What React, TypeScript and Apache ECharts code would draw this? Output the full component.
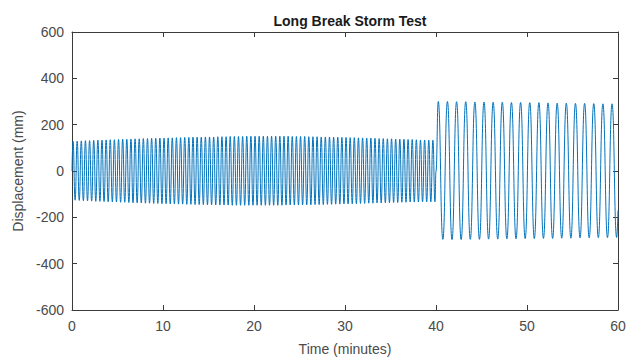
import React, { useEffect, useRef } from "react";
import * as echarts from "echarts";

const titleText = "Long Break Storm Test";
const xName = "Time (minutes)";
const yName = "Displacement (mm)";
const xTicks = [0, 10, 20, 30, 40, 50, 60];
const yTicks = [-600, -400, -200, 0, 200, 400, 600];

// Segment 1: 0–40 min, 88 cycles; crest and trough values of each cycle (mm)
const seg1Start = 0;
const seg1Period = 40 / 88;
const seg1Crests = [
  128, 129, 130, 131, 131, 132, 133, 133, 134, 135, 135,
  136, 137, 137, 138, 139, 139, 140, 140, 141, 141, 142,
  142, 143, 143, 144, 144, 145, 145, 146, 146, 146, 147,
  147, 147, 148, 148, 148, 149, 149, 149, 149, 150, 150,
  150, 150, 150, 150, 150, 150, 150, 150, 150, 149, 149,
  149, 149, 148, 148, 148, 147, 147, 147, 146, 146, 145,
  145, 144, 144, 143, 143, 142, 142, 141, 140, 140, 139,
  139, 138, 137, 137, 136, 136, 135, 134, 134, 133, 133,
];
const seg1Troughs = [
  -126, -127, -128, -129, -130, -131, -131, -132, -133, -133, -134,
  -135, -135, -136, -137, -137, -138, -139, -139, -140, -140, -141,
  -141, -142, -142, -143, -143, -144, -144, -145, -145, -145, -146,
  -146, -146, -147, -147, -147, -148, -148, -148, -148, -148, -148,
  -148, -148, -148, -148, -148, -148, -148, -147, -147, -147, -147,
  -146, -146, -146, -145, -145, -145, -144, -144, -143, -143, -142,
  -142, -141, -141, -140, -140, -139, -139, -138, -138, -137, -137,
  -136, -136, -135, -135, -134, -134, -134, -133, -133, -133, -133,
];

// Segment 2: from 40 min, 20 cycles of about 1 min
const seg2Start = 40;
const seg2Period = 1.005;
const seg2Crests = [
  300, 300, 299, 299, 298, 298, 297, 297, 296, 296,
  295, 295, 294, 293, 293, 292, 292, 291, 290, 290,
];
const seg2Troughs = [
  -295, -296, -296, -295, -295, -294, -294, -293, -293, -292,
  -292, -291, -291, -290, -290, -289, -289, -288, -288, -287,
];
const startValue = 0;
const joinValue = 0;
const endTime = 60;
const endValue = -170;

function buildSeries(): [number, number][] {
  const pts: [number, number][] = [[seg1Start, startValue]];
  seg1Crests.forEach((c, i) => {
    pts.push([seg1Start + (i + 0.25) * seg1Period, c]);
    pts.push([seg1Start + (i + 0.75) * seg1Period, seg1Troughs[i]]);
  });
  pts.push([seg2Start, joinValue]);
  seg2Crests.forEach((c, i) => {
    pts.push([seg2Start + (i + 0.25) * seg2Period, c]);
    pts.push([seg2Start + (i + 0.75) * seg2Period, seg2Troughs[i]]);
  });
  pts.push([endTime, endValue]);
  return pts;
}

const axisColor = "#3a3a3a";
const labelColor = "#4a4a4a";
const font = "Liberation Sans, Arial, Helvetica, sans-serif";

export default function App() {
  const ref = useRef<HTMLDivElement>(null);
  useEffect(() => {
    if (!ref.current) return;
    const chart = echarts.init(ref.current, null, { renderer: "svg" });
    const tickCommon = {
      show: true,
      inside: true,
      length: 5,
      lineStyle: { color: axisColor, width: 1 },
    };
    const lineCommon = { show: true, onZero: false, lineStyle: { color: axisColor, width: 1 } };
    chart.setOption({
      animation: false,
      backgroundColor: "#ffffff",
      textStyle: { fontFamily: font },
      title: {
        text: titleText,
        left: 345,
        top: 9,
        textAlign: "center",
        textStyle: { fontFamily: font, fontSize: 14, fontWeight: "bold", color: "#1a1a1a" },
      },
      grid: { left: 72, right: 9, top: 32, bottom: 48, containLabel: false, outerBoundsMode: "none" },
      xAxis: [
        {
          type: "value",
          min: xTicks[0],
          max: xTicks[xTicks.length - 1],
          interval: 10,
          position: "bottom",
          name: xName,
          nameLocation: "middle",
          nameGap: 32,
          nameTextStyle: { fontFamily: font, fontSize: 14, color: labelColor },
          axisLine: lineCommon,
          axisTick: tickCommon,
          axisLabel: { margin: 9, fontFamily: font, fontSize: 14, color: labelColor },
          splitLine: { show: false },
        },
        {
          type: "value",
          min: xTicks[0],
          max: xTicks[xTicks.length - 1],
          interval: 10,
          position: "top",
          axisLine: lineCommon,
          axisTick: tickCommon,
          axisLabel: { show: false },
          splitLine: { show: false },
        },
      ],
      yAxis: [
        {
          type: "value",
          min: yTicks[0],
          max: yTicks[yTicks.length - 1],
          interval: 200,
          position: "left",
          name: yName,
          nameLocation: "middle",
          nameGap: 46,
          nameTextStyle: { fontFamily: font, fontSize: 14, color: labelColor },
          axisLine: lineCommon,
          axisTick: tickCommon,
          axisLabel: { margin: 8, fontFamily: font, fontSize: 14, color: labelColor },
          splitLine: { show: false },
        },
        {
          type: "value",
          min: yTicks[0],
          max: yTicks[yTicks.length - 1],
          interval: 200,
          position: "right",
          axisLine: lineCommon,
          axisTick: tickCommon,
          axisLabel: { show: false },
          splitLine: { show: false },
        },
      ],
      series: [
        {
          type: "line",
          xAxisIndex: 0,
          yAxisIndex: 0,
          data: buildSeries(),
          symbol: "none",
          smooth: 0.5,
          smoothMonotone: "x",
          lineStyle: { color: "#0072BD", width: 1 },
          silent: true,
        },
      ],
    });
    return () => chart.dispose();
  }, []);
  return (
    <div
      ref={ref}
      style={{ position: "fixed", left: 0, top: 0, width: 627, height: 358, background: "#fff" }}
    />
  );
}
